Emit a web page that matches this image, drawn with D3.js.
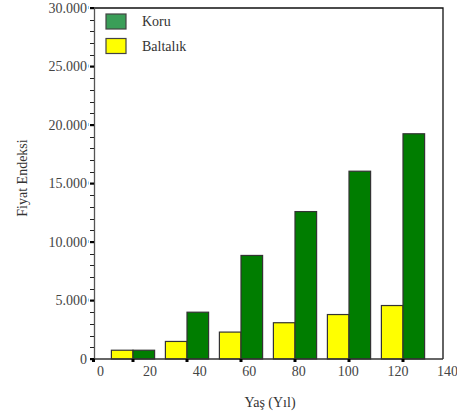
<!DOCTYPE html>
<html>
<head>
<meta charset="utf-8">
<script src="https://cdn.jsdelivr.net/npm/d3@7"></script>
<style>
body { margin:0; background:#fff; }
svg, svg text { font-family: 'Liberation Serif', 'Times New Roman', Times, serif !important; }
</style>
</head>
<body>
<div id="chart-area"></div>
<script>
// data
var ages = [20, 40, 60, 80, 100, 120];
var koru = [750, 4000, 8850, 12600, 16050, 19250];
var baltalik = [750, 1500, 2300, 3100, 3800, 4570];
var yTicks = [0, 5000, 10000, 15000, 20000, 25000, 30000];
var xTickLabels = [0, 20, 40, 60, 80, 100, 120, 140];
var seriesNames = ["Koru", "Baltalık"];

var plot = { left: 94, right: 443, top: 8, bottom: 359 };
var serif = "'Liberation Serif', 'Times New Roman', serif";

var svg = d3.select("#chart-area")
    .append("svg")
        .attr("width", 457)
        .attr("height", 416)
        .attr("font-family", serif);

// Scales
var y = d3.scaleLinear().domain([0, 30000]).range([plot.bottom, plot.top]);
var x = d3.scaleLinear().domain([0, 140]).range([79, 457]);
var xLab = d3.scaleLinear().domain([0, 140]).range([100, 447]);
var barW = x(8) - x(0);

var tr = d3.formatLocale({ decimal: ",", thousands: ".", grouping: [3], currency: ["", ""] });
var fmt = tr.format(",");

// frame top / right
svg.append("path")
    .attr("d", "M" + plot.left + "," + plot.top + "H" + plot.right + "V" + plot.bottom)
    .attr("fill", "none")
    .attr("stroke", "#111")
    .attr("stroke-width", 1.3);

// bars
var groups = svg.selectAll("g.bar")
    .data(ages)
    .enter().append("g")
    .attr("class", "bar");

groups.append("rect")
    .attr("x", function(d){ return x(d) - barW; })
    .attr("y", function(d, i){ return y(baltalik[i]); })
    .attr("width", barW)
    .attr("height", function(d, i){ return y(0) - y(baltalik[i]); })
    .attr("fill", "#ffff00")
    .attr("stroke", "#333")
    .attr("stroke-width", 1.2);

groups.append("rect")
    .attr("x", function(d){ return x(d); })
    .attr("y", function(d, i){ return y(koru[i]); })
    .attr("width", barW)
    .attr("height", function(d, i){ return y(0) - y(koru[i]); })
    .attr("fill", "#007d00")
    .attr("stroke", "#333")
    .attr("stroke-width", 1.2);

// Y axis
var yAxis = svg.append("g")
    .attr("transform", "translate(" + plot.left + ",0)")
    .call(d3.axisLeft(y).tickValues(yTicks).tickFormat(fmt).tickSize(0).tickPadding(7));
yAxis.attr("font-family", serif).attr("font-size", 14);
yAxis.select(".domain").attr("stroke", "#555").attr("stroke-width", 1.3);
yAxis.selectAll("text").attr("fill", "#444");

// minor ticks every 1000
svg.append("g").selectAll("line")
    .data(d3.range(0, 30001, 1000).filter(function(v){ return v % 5000 !== 0; }))
    .enter().append("line")
    .attr("x1", plot.left - 4).attr("x2", plot.left)
    .attr("y1", function(d){ return Math.round(y(d)) + 0.5; })
    .attr("y2", function(d){ return Math.round(y(d)) + 0.5; })
    .attr("stroke", "#222");

// major ticks
svg.append("g").selectAll("rect")
    .data(yTicks)
    .enter().append("rect")
    .attr("x", plot.left - 4).attr("width", 4)
    .attr("y", function(d){ return y(d) - 1; })
    .attr("height", 2.2)
    .attr("fill", "#000");

svg.append("g").selectAll("rect")
    .data(yTicks.slice(1))
    .enter().append("rect")
    .attr("x", plot.left - 6).attr("width", 1)
    .attr("y", function(d){ return y(d) - 2; })
    .attr("height", 3)
    .attr("fill", "#8cc8ef");

// X axis line
svg.append("line")
    .attr("x1", plot.left).attr("x2", plot.right)
    .attr("y1", plot.bottom).attr("y2", plot.bottom)
    .attr("stroke", "#333").attr("stroke-width", 1.3);

// x tick marks at groups
svg.append("g").selectAll("rect")
    .data(ages)
    .enter().append("rect")
    .attr("x", function(d){ return x(d) - 1.5; })
    .attr("y", plot.bottom)
    .attr("width", 3).attr("height", 3)
    .attr("fill", "#000");
svg.append("rect").attr("x", plot.left - 2).attr("y", plot.bottom).attr("width", 3).attr("height", 3).attr("fill", "#000");

// X labels
var xAxis = svg.append("g")
    .attr("transform", "translate(0," + plot.bottom + ")")
    .call(d3.axisBottom(xLab).tickValues(xTickLabels).tickSize(0).tickPadding(7));
xAxis.attr("font-family", serif).attr("font-size", 14);
xAxis.select(".domain").remove();
xAxis.selectAll("text").attr("fill", "#444");

// axis titles
svg.append("text")
    .attr("x", 270).attr("y", 407)
    .attr("text-anchor", "middle")
    .attr("font-size", 14)
    .attr("fill", "#333")
    .text("Yaş (Yıl)");

svg.append("text")
    .attr("transform", "translate(27,178) rotate(-90)")
    .attr("text-anchor", "middle")
    .attr("font-size", 14)
    .attr("fill", "#333")
    .text("Fiyat Endeksi");

// legend
var legendColors = ["#3a9e58", "#ffff00"];
var legend = svg.selectAll("g.legend")
    .data(seriesNames)
    .enter().append("g")
    .attr("class", "legend")
    .attr("transform", function(d, i){ return "translate(106," + (14 + i * 24.5) + ")"; });
legend.append("rect")
    .attr("width", 20).attr("height", 15)
    .attr("fill", function(d, i){ return legendColors[i]; })
    .attr("stroke", "#444").attr("stroke-width", 1.2);
legend.append("text")
    .attr("x", 36).attr("y", 12)
    .attr("font-size", 14)
    .attr("fill", "#333")
    .text(function(d){ return d; });
</script>
</body>
</html>
